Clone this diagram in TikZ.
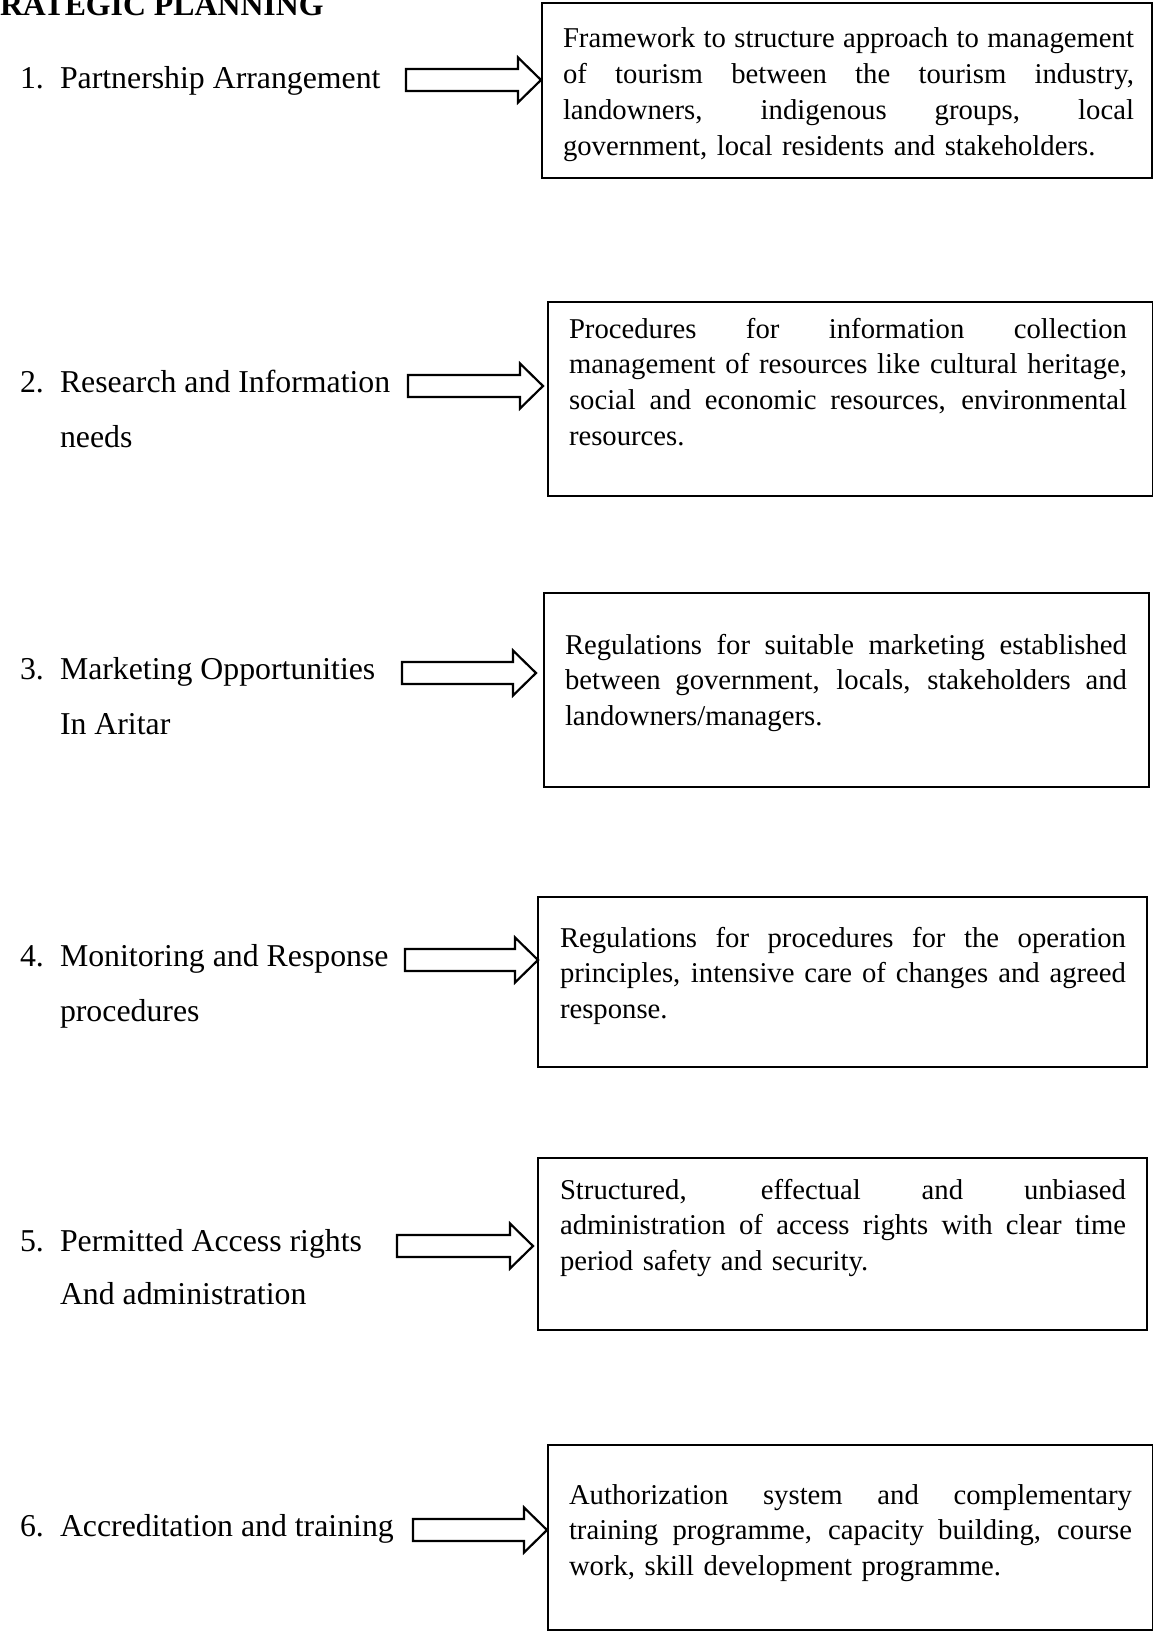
\documentclass[tikz,border=0pt]{standalone}
\usepackage{fontspec}
\setmainfont{Liberation Serif}
% one fully justified line of a box text: width, words
\newcommand\jl[2]{\hbox to #1{\spaceskip=0.25em plus 1fil minus 0.1em\relax #2}\par}
\newcommand\barrow[4]{% name, tail x, tip x, centre y
  \draw[blockarrow] (#2,#4-11) -- (#3-23,#4-11) -- (#3-23,#4-22.5) -- (#3,#4)
    -- (#3-23,#4+22.5) -- (#3-23,#4+11) -- (#2,#4+11) -- cycle;
  \coordinate (#1) at (#3,#4);}
\begin{document}
\begin{tikzpicture}[x=1pt,y=-1pt,
  every node/.style={inner sep=0pt,outer sep=0pt},
  lbl/.style={anchor=base west,font=\fontsize{31.8}{36}\selectfont},
  desc/.style={anchor=base west,text width=#1,
    font=\fontsize{28.7}{35.8}\selectfont},
  frame/.style={draw=black,line width=2pt},
  blockarrow/.style={draw=black,line width=2.2pt,line join=miter,fill=white}]
\useasboundingbox[fill=white] (0,0) rectangle (1153,1632);

% heading
\node[lbl,font=\fontsize{31.8}{36}\selectfont\bfseries] (title) at (0,16) {RATEGIC PLANNING};

% 1
\node[lbl] (n1) at (20,89) {1.};
\node[lbl] (l1) at (60,89) {Partnership Arrangement};
\barrow{a1}{406}{541}{80}
\draw[frame] (542,3) rectangle (1152,178);
\node[desc=571pt] (d1) at (563,48)
  {\jl{571pt}{Framework to structure approach to management}%
   \jl{571pt}{of tourism between the tourism industry,}%
   \jl{571pt}{landowners, indigenous groups, local}%
   government, local residents and stakeholders.};

% 2
\node[lbl] (n2) at (20,392) {2.};
\node[lbl] (l2) at (60,392) {Research and Information};
\node[lbl] (l2b) at (60,447) {needs};
\barrow{a2}{408}{543}{386}
\draw[frame] (548,302) rectangle (1152.5,496);
\node[desc=558pt] (d2) at (569,338)
  {\jl{558pt}{Procedures for information collection}%
   \jl{558pt}{management of resources like cultural heritage,}%
   \jl{558pt}{social and economic resources, environmental}%
   resources.};

% 3
\node[lbl] (n3) at (20,679) {3.};
\node[lbl] (l3) at (60,679) {Marketing Opportunities};
\node[lbl] (l3b) at (60,734) {In Aritar};
\barrow{a3}{402}{536}{673}
\draw[frame] (544,593) rectangle (1149,787);
\node[desc=562pt] (d3) at (565,654)
  {\jl{562pt}{Regulations for suitable marketing established}%
   \jl{562pt}{between government, locals, stakeholders and}%
   landowners/managers.};

% 4
\node[lbl] (n4) at (20,966) {4.};
\node[lbl] (l4) at (60,966) {Monitoring and Response};
\node[lbl] (l4b) at (60,1021) {procedures};
\barrow{a4}{405}{538}{960}
\draw[frame] (538,897) rectangle (1147,1067);
\node[desc=566pt] (d4) at (560,947)
  {\jl{566pt}{Regulations for procedures for the operation}%
   \jl{566pt}{principles, intensive care of changes and agreed}%
   response.};

% 5
\node[lbl] (n5) at (20,1251) {5.};
\node[lbl] (l5) at (60,1251) {Permitted Access rights};
\node[lbl] (l5b) at (60,1304) {And administration};
\barrow{a5}{397}{533}{1246}
\draw[frame] (538,1158) rectangle (1147,1330);
\node[desc=566pt] (d5) at (560,1199)
  {\jl{566pt}{Structured, effectual and unbiased}%
   \jl{566pt}{administration of access rights with clear time}%
   period safety and security.};

% 6
\node[lbl] (n6) at (20,1536) {6.};
\node[lbl] (l6) at (60,1536) {Accreditation and training};
\barrow{a6}{413}{547}{1530}
\draw[frame] (548,1445) rectangle (1152.5,1630);
\node[desc=563pt] (d6) at (569,1504)
  {\jl{563pt}{Authorization system and complementary}%
   \jl{563pt}{training programme, capacity building, course}%
   work, skill development programme.};
\end{tikzpicture}
\end{document}
